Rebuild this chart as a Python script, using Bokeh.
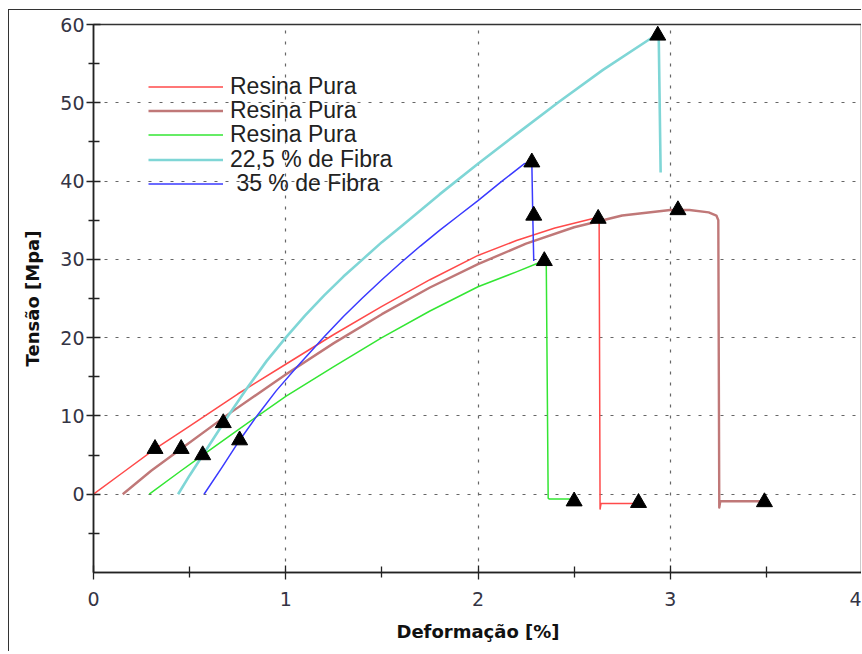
from bokeh.plotting import figure
from bokeh.models import Range1d, FixedTicker, Legend, LegendItem
from bokeh.embed import file_html
from bokeh.resources import INLINE

# ---- data ----
red_x = [0, 0.16, 0.32, 0.5, 0.75, 1.0, 1.25, 1.5, 1.75, 2.0, 2.2, 2.4, 2.63, 2.635, 2.64, 2.82]
red_y = [0, 2.9, 5.8, 8.7, 12.8, 16.6, 20.4, 24.0, 27.4, 30.5, 32.4, 34.0, 35.4, -1.9, -1.2, -1.2]

brown_x = [0.152, 0.3, 0.456, 0.7, 1.0, 1.25, 1.5, 1.75, 2.0, 2.25, 2.5, 2.75, 3.0, 3.1, 3.2, 3.24, 3.25, 3.255, 3.26, 3.47]
brown_y = [0, 3.0, 5.8, 10.2, 15.3, 19.3, 23.0, 26.4, 29.4, 32.0, 34.1, 35.6, 36.3, 36.3, 36.0, 35.6, 35.0, -1.7, -0.9, -0.9]

green_x = [0.29, 0.45, 0.568, 0.75, 1.0, 1.25, 1.5, 1.75, 2.0, 2.2, 2.32, 2.355, 2.365, 2.37, 2.48]
green_y = [0, 2.9, 5.0, 8.2, 12.5, 16.3, 20.0, 23.4, 26.5, 28.4, 29.6, 29.8, -0.5, -0.6, -0.6]

cyan_x = [0.44, 0.5, 0.6, 0.7, 0.8, 0.9, 1.0, 1.1, 1.2, 1.3, 1.4, 1.5, 1.6, 1.8, 2.0, 2.2, 2.42, 2.65, 2.91, 2.94, 2.95]
cyan_y = [0, 2.4, 6.2, 10.0, 13.6, 17.0, 20.0, 22.8, 25.4, 27.8, 30.0, 32.2, 34.2, 38.3, 42.2, 46.0, 50.1, 54.2, 58.4, 58.6, 41.1]

blue_x = [0.575, 0.67, 0.76, 0.85, 0.95, 1.06, 1.2, 1.3, 1.4, 1.5, 1.6, 1.7, 1.8, 1.9, 2.0, 2.12, 2.24, 2.28, 2.285, 2.29]
blue_y = [0, 3.5, 6.9, 10.0, 13.2, 16.3, 20.1, 22.7, 25.1, 27.4, 29.6, 31.7, 33.7, 35.6, 37.5, 39.9, 42.2, 42.4, 35.5, 29.8]

mark_x = [0.32, 0.456, 0.568, 0.675, 0.76, 2.28, 2.29, 2.345, 2.625, 2.935, 3.04, 2.50, 2.835, 3.49]
mark_y = [5.8, 5.8, 5.0, 9.1, 6.9, 42.4, 35.6, 29.8, 35.2, 58.6, 36.3, -0.9, -1.1, -1.0]

labels = ["Resina Pura", "Resina Pura", "Resina Pura", "22,5 % de Fibra", " 35 % de Fibra"]
colors = ["#ff4a4a", "#c07878", "#33e633", "#7fd6d6", "#3a3aff"]
widths = [1.5, 2.4, 1.5, 2.6, 1.5]

x_ticks = [0, 1, 2, 3, 4]
x_minor = [0.5, 1.5, 2.5, 3.5]
y_ticks = [0, 10, 20, 30, 40, 50, 60]
y_minor = [-5, 5, 15, 25, 35, 45, 55]

p = figure(width=853, height=642, x_range=Range1d(0, 4), y_range=Range1d(-10, 60),
           output_backend="svg", toolbar_location=None,
           min_border_left=84, min_border_top=14, min_border_right=0, min_border_bottom=80,
           x_axis_label="Deformação [%]", y_axis_label="Tensão [Mpa]")
p.styles = {"border-left": "1px solid #333", "border-top": "1px solid #333",
            "margin-left": "8px", "margin-top": "9px"}

p.outline_line_color = "#333333"
p.outline_line_width = 1.5
p.background_fill_color = "white"
p.border_fill_color = "white"

p.xaxis.ticker = FixedTicker(ticks=x_ticks, minor_ticks=x_minor)
p.yaxis.ticker = FixedTicker(ticks=y_ticks, minor_ticks=y_minor)
for ax in (p.xaxis, p.yaxis):
    ax.axis_line_color = "#222222"
    ax.axis_line_width = 1.5
    ax.major_tick_line_color = "#222222"
    ax.minor_tick_line_color = "#222222"
    ax.major_tick_line_width = 1.3
    ax.minor_tick_line_width = 1.3
    ax.major_tick_in = 7
    ax.major_tick_out = 7
    ax.minor_tick_in = 6
    ax.minor_tick_out = 5
    ax.major_label_text_font = "DejaVu Sans"
    ax.major_label_text_font_size = "19px"
    ax.major_label_text_color = "#343444"
    ax.axis_label_text_font = "DejaVu Sans"
    ax.axis_label_text_font_style = "bold"
    ax.axis_label_text_font_size = "18px"
    ax.axis_label_text_color = "#111111"
p.xaxis.major_label_standoff = 12
p.xaxis.axis_label_standoff = 12
p.yaxis.major_label_standoff = 2
p.yaxis.axis_label_standoff = 14

for g in (p.xgrid, p.ygrid):
    g.grid_line_color = "#666666"
    g.grid_line_width = 1.2
    g.grid_line_dash = "3 8"

series = [(red_x, red_y), (brown_x, brown_y), (green_x, green_y), (cyan_x, cyan_y), (blue_x, blue_y)]
renderers = []
for (xs, ys), c, w in zip(series, colors, widths):
    renderers.append(p.line(xs, ys, line_color=c, line_width=w, line_join="round"))

p.scatter(mark_x, mark_y, marker="triangle", size=16, color="black")

# one legend per row so the rows sit at the reference spacing
row_offsets = [472, 448, 424, 399, 375]
for r, lab, off in zip(renderers, labels, row_offsets):
    lg = Legend(items=[LegendItem(label=lab, renderers=[r])], location=(55, off),
                glyph_width=75, glyph_height=25, label_height=25, label_standoff=7,
                spacing=0, padding=0, margin=0,
                label_text_font="Liberation Sans", label_text_font_size="23px",
                label_text_color="#222222", background_fill_alpha=0, border_line_alpha=0)
    p.add_layout(lg, "center")

open("out.html", "w").write(file_html(p, INLINE))
